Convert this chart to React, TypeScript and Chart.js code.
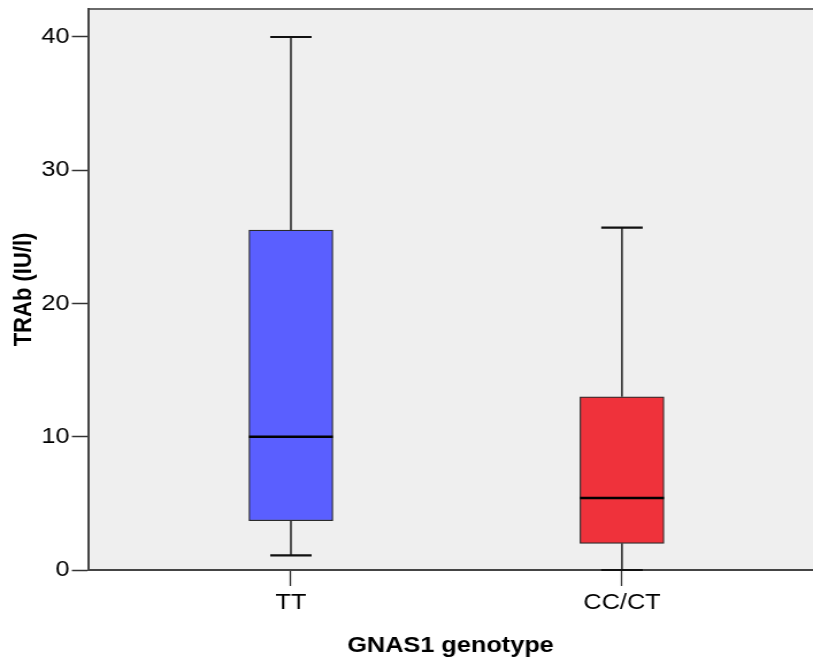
import React, { useEffect, useRef } from "react";
import { Chart, registerables } from "chart.js";

Chart.register(...registerables);

const categories = ["TT", "CC/CT"];
const whiskerLow = [1.1, 0];
const q1Values = [3.7, 2.0];
const medians = [10.0, 5.4];
const q3Values = [25.5, 13.0];
const whiskerHigh = [40.0, 25.7];
const yTicks = [0, 10, 20, 30, 40];
const boxColors = ["#5a5fff", "#ef323b"];

const FONT = "'Liberation Sans', Arial, sans-serif";
// the reference appears horizontally stretched; draw narrower and stretch via CSS
const STRETCH = 1.15;
const OUT_W = 813;
const OUT_H = 661;
const INT_W = Math.round(OUT_W / STRETCH);

const boxPlugin = {
  id: "boxExtras",
  beforeDraw(chart: any) {
    const { ctx, chartArea } = chart;
    ctx.save();
    ctx.fillStyle = "#efefef";
    ctx.fillRect(chartArea.left, chartArea.top, chartArea.right - chartArea.left, chartArea.bottom - chartArea.top);
    ctx.strokeStyle = "#6a6a6a";
    ctx.lineWidth = 2;
    ctx.beginPath();
    ctx.moveTo(chartArea.left, chartArea.top);
    ctx.lineTo(chartArea.right, chartArea.top);
    ctx.stroke();
    ctx.restore();
  },
  beforeDatasetsDraw(chart: any) {
    const { ctx } = chart;
    const xs = chart.scales.x;
    const ys = chart.scales.y;
    ctx.save();
    ctx.strokeStyle = "#111";
    categories.forEach((_, i) => {
      const cx = xs.getPixelForValue(i);
      const capHalf = 18;
      const segs: [number, number][] = [
        [q3Values[i], whiskerHigh[i]],
        [q1Values[i], whiskerLow[i]],
      ];
      segs.forEach(([a, b]) => {
        const ya = ys.getPixelForValue(a);
        const yb = ys.getPixelForValue(b);
        ctx.lineWidth = 1.4;
        ctx.beginPath();
        ctx.moveTo(cx, ya);
        ctx.lineTo(cx, yb);
        ctx.stroke();
        ctx.lineWidth = 2.2;
        ctx.beginPath();
        ctx.moveTo(cx - capHalf, yb);
        ctx.lineTo(cx + capHalf, yb);
        ctx.stroke();
      });
    });
    ctx.restore();
  },
  afterDatasetsDraw(chart: any) {
    const { ctx } = chart;
    const meta = chart.getDatasetMeta(0);
    const ys = chart.scales.y;
    ctx.save();
    ctx.strokeStyle = "#000";
    ctx.lineWidth = 2.4;
    meta.data.forEach((bar: any, i: number) => {
      const half = bar.width / 2;
      const y = ys.getPixelForValue(medians[i]);
      ctx.beginPath();
      ctx.moveTo(bar.x - half, y);
      ctx.lineTo(bar.x + half, y);
      ctx.stroke();
    });
    ctx.restore();
  },
};

export default function App() {
  const ref = useRef<HTMLCanvasElement | null>(null);
  useEffect(() => {
    document.body.style.margin = "0";
    if (!ref.current) return;
    const chart = new Chart(ref.current, {
      type: "bar",
      data: {
        datasets: [
          {
            data: categories.map((_, i) => ({ x: i, y: [q1Values[i], q3Values[i]] })) as any,
            backgroundColor: boxColors,
            borderColor: "#2a2a2a",
            borderWidth: 1.2,
            borderSkipped: false,
            barThickness: 73,
          },
        ],
      },
      options: {
        animation: false,
        responsive: false,
        devicePixelRatio: 1,
        layout: { padding: { top: 9, right: 0, left: 0, bottom: 0 } },
        plugins: { legend: { display: false }, tooltip: { enabled: false } },
        scales: {
          x: {
            type: "linear",
            offset: false,
            min: -0.613,
            max: 1.577,
            afterBuildTicks: (scale: any) => {
              scale.ticks = categories.map((_, i) => ({ value: i }));
            },
            afterFit: (scale: any) => {
              scale.height = 91;
              scale.paddingLeft = 0;
              scale.paddingRight = 0;
            },
            grid: {
              offset: false,
              drawOnChartArea: false,
              drawTicks: true,
              tickLength: 16,
              tickColor: "#333",
              tickWidth: 1.3,
            },
            border: { display: true, color: "#444", width: 2 },
            ticks: {
              color: "#000",
              padding: 4,
              maxRotation: 0,
              autoSkip: false,
              font: { family: FONT, size: 22 },
              callback: (v: any) => categories[Math.round(Number(v))] ?? "",
            },
            title: {
              display: true,
              text: "GNAS1 genotype",
              color: "#000",
              font: { family: FONT, size: 22, weight: "bold" },
              padding: { top: 4, bottom: 2 },
            },
          },
          y: {
            type: "linear",
            min: 0,
            max: 42.1,
            afterBuildTicks: (scale: any) => {
              scale.ticks = yTicks.map((v) => ({ value: v }));
            },
            afterFit: (scale: any) => {
              scale.width = 76.5;
              scale.paddingTop = 0;
              scale.paddingBottom = 0;
            },
            grid: {
              drawOnChartArea: false,
              drawTicks: true,
              tickLength: 14,
              tickColor: "#333",
              tickWidth: 1.5,
            },
            border: { display: true, color: "#444", width: 2 },
            ticks: {
              color: "#000",
              padding: 2,
              font: { family: FONT, size: 22 },
            },
            title: {
              display: true,
              text: "TRAb (IU/l)",
              color: "#000",
              font: { family: FONT, size: 22, weight: "bold" },
              padding: { top: 8, bottom: 4 },
            },
          },
        },
      },
      plugins: [boxPlugin],
    });
    return () => chart.destroy();
  }, []);
  return (
    <div style={{ width: OUT_W, height: OUT_H }}>
      <canvas
        ref={ref}
        width={INT_W}
        height={OUT_H}
        style={{ display: "block", width: OUT_W, height: OUT_H }}
      />
    </div>
  );
}
